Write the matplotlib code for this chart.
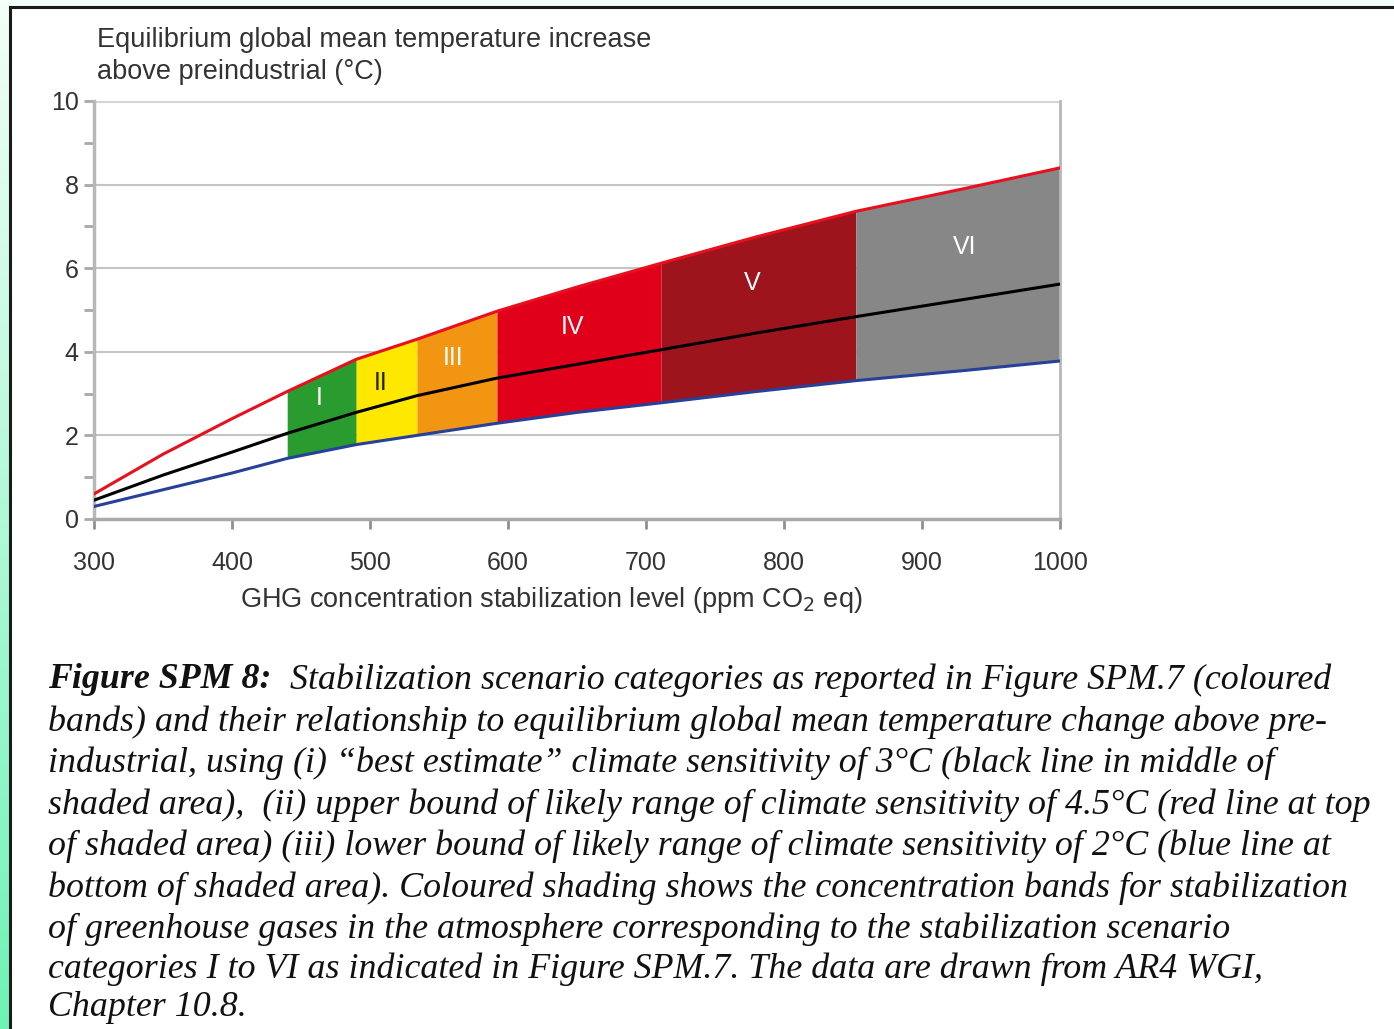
import numpy as np
import matplotlib
matplotlib.use('Agg')
from matplotlib import pyplot as plt
from matplotlib.colors import LinearSegmentedColormap
from matplotlib.lines import Line2D
from matplotlib.patches import Rectangle

# concentration (ppm CO2 eq) and equilibrium warming
conc = [300, 350, 400, 440, 490, 534, 592, 650, 711, 780, 852, 930, 1000]
t_upper = [0.6, 1.55, 2.4, 3.05, 3.82, 4.3, 4.97, 5.55, 6.12, 6.75, 7.36, 7.9, 8.4]
t_best = [0.45, 1.05, 1.6, 2.05, 2.55, 2.95, 3.37, 3.7, 4.05, 4.45, 4.84, 5.25, 5.62]
t_lower = [0.3, 0.7, 1.1, 1.45, 1.78, 2.0, 2.29, 2.55, 2.78, 3.05, 3.31, 3.55, 3.78]

# stabilization categories
cat_names = ['I', 'II', 'III', 'IV', 'V', 'VI']
cat_lo = [440, 490, 534, 592, 711, 852]
cat_hi = [490, 534, 592, 711, 852, 1000]
cat_colors = ['#2a9b2e', '#ffe800', '#f29512', '#e0001a', '#9e141c', '#878787']
cat_text_col = ['white', '#222222', 'white', 'white', 'white', 'white']
cat_lab_x = [463, 508, 560, 647, 777, 931]
cat_lab_y = [2.9, 3.25, 3.85, 4.6, 5.65, 6.5]

caption = [
    "bands) and their relationship to equilibrium global mean temperature change above pre-",
    "industrial, using (i) \u201cbest estimate\u201d climate sensitivity of 3\u00b0C (black line in middle of",
    "shaded area),  (ii) upper bound of likely range of climate sensitivity of 4.5\u00b0C (red line at top",
    "of shaded area) (iii) lower bound of likely range of climate sensitivity of 2\u00b0C (blue line at",
    "bottom of shaded area). Coloured shading shows the concentration bands for stabilization",
    "of greenhouse gases in the atmosphere corresponding to the stabilization scenario",
    "categories I to VI as indicated in Figure SPM.7. The data are drawn from AR4 WGI,",
    "Chapter 10.8.",
]

W, H = 1394, 1029
fig = plt.figure(figsize=(W / 100, H / 100), dpi=100)
fig.patch.set_facecolor('white')

plt.rcParams['font.family'] = ['Liberation Sans', 'DejaVu Sans']

# frame: mint strip on left, pale strip on top, black border
fig.patches.append(Rectangle((0, 1 - 6 / H), 1, 6 / H, transform=fig.transFigure,
                             facecolor='#f3fff9', edgecolor='none', zorder=0))
gax = fig.add_axes([0, 0, 9 / W, 1 - 6 / H])
grad = np.linspace(0, 1, 256).reshape(-1, 1)
cm = LinearSegmentedColormap.from_list('mint', ['#6ff2b6', '#f2fff8'])
gax.imshow(grad, aspect='auto', cmap=cm, origin='lower')
gax.axis('off')
fig.lines.append(Line2D([9.5 / W, 9.5 / W], [0, 1 - 6.5 / H], transform=fig.transFigure,
                        color='#1a1a1a', lw=2.2))
fig.lines.append(Line2D([9.5 / W, 1], [1 - 6.5 / H, 1 - 6.5 / H], transform=fig.transFigure,
                        color='#1a1a1a', lw=2.2))

ax = fig.add_axes([94 / W, 1 - 519 / H, (1060 - 94) / W, (519 - 101) / H])
ax.set_xlim(300, 1000)
ax.set_ylim(0, 10)

x = np.array(conc)
lo = np.array(t_lower)
hi = np.array(t_upper)
for i in range(len(cat_names)):
    m = (x >= cat_lo[i]) & (x <= cat_hi[i])
    ax.fill_between(x[m], lo[m], hi[m], color=cat_colors[i], lw=0, zorder=2)
    ax.text(cat_lab_x[i], cat_lab_y[i], cat_names[i], color=cat_text_col[i],
            ha='center', va='center', fontsize=18, zorder=5)

ax.plot(conc, t_upper, color='#e8101e', lw=2.2, zorder=4)
ax.plot(conc, t_lower, color='#27409a', lw=2.2, zorder=4)
ax.plot(conc, t_best, color='black', lw=2.2, zorder=4)

for y in [2, 4, 6, 8]:
    ax.axhline(y, color='#c4c4c4', lw=1.5, zorder=1)
ax.axhline(10, color='#d6d6d6', lw=3, zorder=1)

ax.spines['top'].set_visible(False)
ax.spines['right'].set_color('#b8b8b8')
ax.spines['right'].set_linewidth(2)
ax.spines['left'].set_color('#b8b8b8')
ax.spines['left'].set_linewidth(2.5)
ax.spines['bottom'].set_color('#a8a8a8')
ax.spines['bottom'].set_linewidth(2.5)

ax.set_xticks(range(300, 1001, 100))
ax.set_yticks(range(0, 11, 2))
ax.set_yticks(range(1, 10, 2), minor=True)
ax.tick_params(axis='x', direction='out', length=7, width=2, color='#909090',
               pad=16, labelsize=18, labelcolor='#333333')
ax.tick_params(axis='y', which='both', direction='out', length=7, width=2,
               color='#a8a8a8', pad=4, labelsize=18, labelcolor='#333333')

fig.text(97 / W, 1 - 40 / H, 'Equilibrium global mean temperature increase',
         fontsize=19.5, color='#333333', va='center', ha='left')
fig.text(97 / W, 1 - 72 / H, 'above preindustrial (\u00b0C)',
         fontsize=19.5, color='#333333', va='center', ha='left')
fig.text(551 / W, 1 - 600 / H, 'GHG concentration stabilization level (ppm CO$_2$ eq)',
         fontsize=19.5, color='#333333', va='center', ha='center')

# caption in italic serif
cap_font = dict(family='Liberation Serif', style='italic', fontsize=25.8, color='#111111')
x0 = 48 / W
t1 = fig.text(x0, 1 - 680 / H, 'Figure SPM 8:', fontweight='bold', va='center', **cap_font)
r = fig.canvas.get_renderer()
bb = t1.get_window_extent(renderer=r)
fig.text(bb.x1 / W, 1 - 680 / H,
         '  Stabilization scenario categories as reported in Figure SPM.7 (coloured',
         va='center', **cap_font)
ys = [722, 763, 805, 846, 888, 929, 969, 1008]
for line, yy in zip(caption, ys):
    fig.text(x0, 1 - yy / H, line, va='center', **cap_font)

plt.savefig('out.png', dpi=100)
